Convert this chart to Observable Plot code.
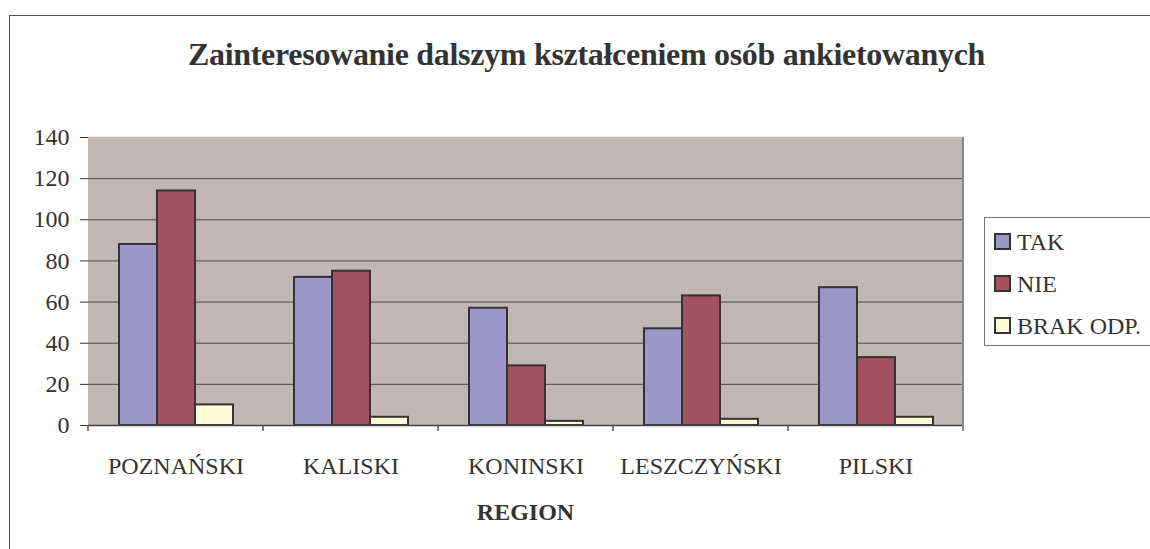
<!DOCTYPE html>
<html>
<head>
<meta charset="utf-8">
<script src="https://cdn.jsdelivr.net/npm/d3@7"></script>
<script src="https://cdn.jsdelivr.net/npm/@observablehq/plot@0.6"></script>
<style>
  html, body { margin: 0; padding: 0; background: #fff; }
  body { width: 1150px; height: 549px; overflow: hidden; position: relative; font-family: "Liberation Serif", "Times New Roman", serif; color: #333; }
  #frame { position: absolute; left: 9px; top: 15px; width: 1300px; height: 700px; border: 1.5px solid #555; box-sizing: border-box; }
  #title { position: absolute; left: 0; width: 1173px; top: 38px; text-align: center; font-weight: bold; font-size: 32px; line-height: 32px; white-space: nowrap; letter-spacing: -0.3px; }
  #chart { position: absolute; left: 0; top: 115px; }
  #xlabel { position: absolute; left: 0; width: 1051px; top: 500px; text-align: center; font-weight: bold; font-size: 24px; line-height: 24px; }
  #legend { position: absolute; left: 984px; top: 217px; width: 300px; height: 129px; border: 1.5px solid #777; box-sizing: border-box; }
  .item { position: absolute; left: 9px; height: 24px; font-size: 24px; line-height: 24px; white-space: nowrap; }
  .sw { position: absolute; left: 0; top: 3px; width: 17px; height: 17px; border: 2px solid #333; box-sizing: border-box; }
  .lt { position: absolute; left: 23px; top: 0; }
</style>
</head>
<body>
<div id="frame"></div>
<div id="title">Zainteresowanie dalszym kształceniem osób ankietowanych</div>
<div id="chart"></div>
<div id="xlabel">REGION</div>
<div id="legend"></div>
<script>
const regions = ["POZNAŃSKI", "KALISKI", "KONINSKI", "LESZCZYŃSKI", "PILSKI"];
const series = ["TAK", "NIE", "BRAK ODP."];
const takValues = [88, 72, 57, 47, 67];
const nieValues = [114, 75, 29, 63, 33];
const brakValues = [10, 4, 2, 3, 4];
const yTicks = [0, 20, 40, 60, 80, 100, 120, 140];
const seriesColors = ["#9C97C9", "#A5505F", "#FFFBD6"];
const plotBackground = "#C0B6B4";

const valuesBySeries = [takValues, nieValues, brakValues];
const data = [];
regions.forEach((r, i) => {
  series.forEach((s, j) => data.push({region: r, series: s, value: valuesBySeries[j][i]}));
});

const plot = Plot.plot({
  width: 1150,
  height: 420,
  marginLeft: 88,
  marginRight: 187,
  marginTop: 22,
  marginBottom: 110,
  style: {fontFamily: "Liberation Serif, serif", fontSize: "24px", color: "#333", background: "transparent"},
  fx: {domain: regions, padding: 0, label: null, tickSize: 0, tickPadding: 31},
  x: {domain: series, axis: null, paddingInner: 0, paddingOuter: 0.78},
  y: {domain: [0, 140], ticks: yTicks, tickSize: 8, tickPadding: 11, label: null, line: true},
  color: {domain: series, range: seriesColors},
  marks: [
    Plot.frame({fill: plotBackground, stroke: plotBackground, strokeWidth: 1}),
    Plot.ruleY(yTicks.filter(t => t > 0 && t < 140), {stroke: "#4a4a4a", strokeWidth: 1}),
    Plot.ruleY([140], {stroke: "#b8b8b8", strokeWidth: 1.5}),
    Plot.barY(data, {fx: "region", x: "series", y: "value", fill: "series", stroke: "#333", strokeWidth: 2}),
    Plot.ruleY([0], {stroke: "#444", strokeWidth: 1.5})
  ]
});
document.getElementById("chart").appendChild(plot);

// category boundary ticks and right edge, positioned through the fx scale
const fx = plot.scale("fx");
const yScale = plot.scale("y");
const step = fx.step;
const starts = regions.map(r => fx.apply ? fx.apply(r) : fx.range[0] + regions.indexOf(r) * step);
const edges = starts.concat([starts[starts.length - 1] + step]);
const y0 = yScale.apply ? yScale.apply(0) : 310;
const yTop = yScale.apply ? yScale.apply(140) : 22;
const svg = d3.select(plot);
const g = svg.append("g").attr("aria-label", "category-ticks");
edges.forEach((x, i) => {
  g.append("line")
    .attr("x1", x).attr("x2", x)
    .attr("y1", i === edges.length - 1 ? yTop : y0)
    .attr("y2", y0 + 6)
    .attr("stroke", i === edges.length - 1 ? "#888" : "#555")
    .attr("stroke-width", i === edges.length - 1 ? 2 : 1.5);
});

// legend
const legend = document.getElementById("legend");
series.forEach((s, i) => {
  const item = document.createElement("div");
  item.className = "item";
  item.style.top = (12 + i * 42) + "px";
  const sw = document.createElement("div");
  sw.className = "sw";
  sw.style.background = seriesColors[i];
  const t = document.createElement("span");
  t.className = "lt";
  t.textContent = s;
  item.appendChild(sw);
  item.appendChild(t);
  legend.appendChild(item);
});
</script>
</body>
</html>
